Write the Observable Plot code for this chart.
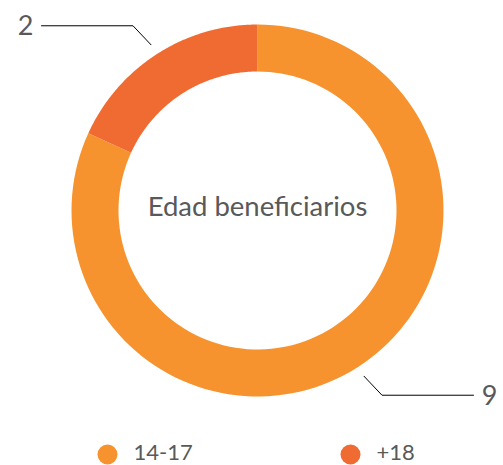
<!DOCTYPE html>
<html>
<head>
<meta charset="utf-8">
<script src="https://cdn.jsdelivr.net/npm/d3@7"></script>
<script src="https://cdn.jsdelivr.net/npm/@observablehq/plot@0.6"></script>
<style>
  html, body { margin: 0; padding: 0; background: #fff; }
  #chart svg { display: block; }
</style>
</head>
<body>
<div id="chart"></div>
<script>
// ---- data ----
const categories = ["14-17", "+18"];
const values = [9, 2];
const centerTitle = "Edad beneficiarios";

// ---- layout ----
const W = 503, H = 465;
const cx = 257, cy = 210, R = 186, r = 139;
const colors = ["#F6932F", "#F06B32"];
const textColor = "#595959";
const font = "Lato, 'Open Sans', sans-serif";

const data = categories.map((c, i) => ({cat: c, value: values[i]}));
const arcs = d3.pie().sort(null).value(d => d.value).startAngle(0).endAngle(2 * Math.PI)(data);

// ring polygons
const ringPts = [];
arcs.forEach(a => {
  const n = 120;
  for (let k = 0; k <= n; k++) {
    const t = a.startAngle + (a.endAngle - a.startAngle) * k / n;
    ringPts.push({cat: a.data.cat, x: cx + R * Math.sin(t), y: cy - R * Math.cos(t)});
  }
  for (let k = n; k >= 0; k--) {
    const t = a.startAngle + (a.endAngle - a.startAngle) * k / n;
    ringPts.push({cat: a.data.cat, x: cx + r * Math.sin(t), y: cy - r * Math.cos(t)});
  }
});

// leader lines and labels
const leaderPts = [];
const labels = [];
arcs.forEach((a, i) => {
  const m = (a.startAngle + a.endAngle) / 2;
  const sx = cx + 197 * Math.sin(m), sy = cy - 197 * Math.cos(m);
  const dir = Math.sin(m) >= 0 ? 1 : -1;
  const ex = sx + dir * 18, ey = sy + (Math.cos(m) > 0 ? -19 : 19);
  const hx = dir > 0 ? 473 : 41;
  leaderPts.push({id: i, x: sx, y: sy}, {id: i, x: ex, y: ey}, {id: i, x: hx, y: ey});
  labels.push({text: String(a.data.value), x: hx + dir * 16, y: ey, anchor: dir > 0 ? "start" : "end"});
});

// legend
const legendX = [107, 350];
const legend = categories.map((c, i) => ({cat: c, x: legendX[i], y: 454}));

const plot = Plot.plot({
  width: W, height: H,
  margin: 0,
  style: {background: "#fff", fontFamily: font},
  x: {domain: [0, W], range: [0, W], axis: null},
  y: {domain: [0, H], range: [0, H], axis: null},
  color: {domain: categories, range: colors},
  marks: [
    Plot.line(ringPts, {x: "x", y: "y", z: "cat", fill: "cat", stroke: null, curve: "linear"}),
    Plot.line(leaderPts, {x: "x", y: "y", z: "id", stroke: "#000", strokeWidth: 1}),
    Plot.text(labels, {x: "x", y: "y", text: "text", textAnchor: "anchor", fill: textColor, fontSize: 27, dy: 1}),
    Plot.text([centerTitle], {x: cx, y: 207, text: d => d, fill: textColor, fontSize: 27.5}),
    Plot.dot(legend, {x: "x", y: "y", r: 10, fill: "cat", stroke: null}),
    Plot.text(legend, {x: d => d.x + 26, y: d => d.y - 2, text: "cat", textAnchor: "start", fill: textColor, fontSize: 22})
  ]
});
document.getElementById("chart").appendChild(plot);
</script>
</body>
</html>
